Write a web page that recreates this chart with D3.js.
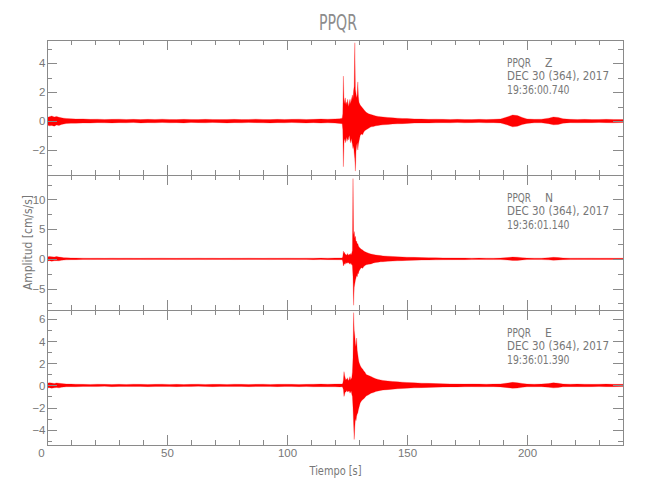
<!DOCTYPE html>
<html><head><meta charset="utf-8">
<script src="https://cdn.jsdelivr.net/npm/d3@7"></script>
<style>
body{margin:0;background:#fff;}
svg{display:block;font-family:"Liberation Sans Narrow","DejaVu Sans Condensed","Liberation Sans",sans-serif;}
</style></head><body>
<svg id="chart" width="650" height="500"></svg>
<script>
// ---- data ----
const timeS = [0,1,2,3,4,5,6,7,8,10,12,15,18,21,24,27,30,33,36,39,42,45,48,51,54,57,60,63,66,69,72,75,78,81,84,87,90,93,96,99,102,105,108,111,114,117,120,122,
123,123.25,123.5,123.75,124,124.25,124.5,124.75,125,125.25,125.5,125.75,126,126.25,126.5,126.75,127,127.25,127.5,127.75,128,128.25,128.5,128.75,129,129.25,129.5,129.75,130,130.5,131,131.5,132,132.5,133,134,135,136,137,138,139,140,
142,144,146,148,150,153,156,159,162,165,168,171,174,177,180,183,186,189,192,194,196,198,200,203,206,209,211,213,215,218,221,224,227,230,233,236,240];

const zHi = [0.25,0.3,0.35,0.28,0.32,0.26,0.22,0.2,0.18,0.16,0.14,
0.15,0.12,0.13,0.11,0.12,0.13,0.11,0.12,0.1,0.12,0.11,0.13,0.11,0.1,0.12,0.11,0.1,0.12,0.11,0.1,0.11,0.12,0.1,0.11,0.13,0.11,0.1,0.12,0.11,0.12,0.13,0.11,0.12,0.14,0.13,0.15,0.16,
0.2,0.5,3.1,1.2,1.4,1.6,1.2,1.3,1.1,1.5,1.2,1.0,1.3,1.5,1.2,1.4,1.6,1.8,1.5,2.1,2.4,5.4,2.2,1.9,1.6,1.8,2.7,1.7,1.3,1.1,1.0,0.9,0.8,0.7,0.6,0.5,0.45,0.4,0.35,0.32,0.3,0.28,
0.25,0.22,0.2,0.18,0.17,0.15,0.14,0.12,0.13,0.12,0.11,0.12,0.11,0.1,0.12,0.11,0.12,0.15,0.3,0.42,0.38,0.25,0.15,0.12,0.13,0.2,0.28,0.25,0.16,0.12,0.11,0.12,0.1,0.11,0.12,0.11,0.1];
const zLo = [-0.28,-0.33,-0.3,-0.35,-0.27,-0.3,-0.24,-0.2,-0.17,-0.15,-0.15,
-0.13,-0.14,-0.11,-0.12,-0.13,-0.11,-0.12,-0.1,-0.13,-0.11,-0.12,-0.1,-0.12,-0.11,-0.13,-0.1,-0.11,-0.12,-0.1,-0.11,-0.13,-0.11,-0.12,-0.1,-0.11,-0.12,-0.13,-0.11,-0.12,-0.1,-0.12,-0.13,-0.11,-0.14,-0.12,-0.14,-0.17,
-0.18,-0.6,-3.15,-1.4,-1.2,-1.5,-1.3,-1.1,-1.4,-1.2,-1.3,-1.1,-1.0,-1.3,-1.5,-1.2,-1.4,-1.6,-1.9,-1.7,-2.2,-2.6,-3.45,-2.1,-1.7,-1.5,-2.0,-1.6,-1.4,-1.0,-0.9,-0.95,-0.75,-0.65,-0.6,-0.5,-0.4,-0.38,-0.33,-0.3,-0.28,-0.26,
-0.24,-0.2,-0.19,-0.18,-0.16,-0.14,-0.13,-0.13,-0.12,-0.11,-0.12,-0.1,-0.12,-0.11,-0.1,-0.12,-0.11,-0.14,-0.28,-0.4,-0.36,-0.24,-0.16,-0.12,-0.12,-0.18,-0.26,-0.24,-0.15,-0.11,-0.12,-0.11,-0.11,-0.1,-0.11,-0.12,-0.1];

const nHi = [0.3,0.4,0.35,0.3,0.38,0.3,0.25,0.2,0.18,0.15,0.13,
0.12,0.1,0.11,0.09,0.12,0.1,0.11,0.1,0.09,0.11,0.1,0.12,0.1,0.09,0.11,0.1,0.12,0.1,0.11,0.09,0.1,0.11,0.1,0.12,0.1,0.09,0.11,0.1,0.12,0.11,0.1,0.12,0.11,0.13,0.12,0.14,0.15,
0.15,0.4,1.3,0.9,1.1,0.7,0.8,0.6,0.7,0.9,0.6,0.7,0.8,0.6,0.9,0.7,1.0,1.4,13.5,4.0,4.6,3.5,3.8,2.9,3.0,2.5,2.6,2.2,2.0,1.8,1.6,1.5,1.3,1.2,1.1,0.95,0.8,0.75,0.65,0.6,0.55,0.5,
0.45,0.4,0.35,0.32,0.28,0.25,0.22,0.2,0.18,0.16,0.15,0.14,0.13,0.12,0.13,0.12,0.11,0.13,0.22,0.3,0.28,0.2,0.13,0.12,0.11,0.18,0.26,0.22,0.14,0.11,0.12,0.11,0.12,0.1,0.11,0.1,0.1];
const nLo = [-0.35,-0.3,-0.4,-0.32,-0.3,-0.33,-0.24,-0.2,-0.17,-0.14,-0.13,
-0.11,-0.12,-0.1,-0.11,-0.09,-0.12,-0.1,-0.11,-0.1,-0.12,-0.09,-0.11,-0.1,-0.12,-0.1,-0.11,-0.09,-0.12,-0.1,-0.11,-0.1,-0.12,-0.11,-0.1,-0.09,-0.11,-0.12,-0.1,-0.11,-0.1,-0.12,-0.11,-0.13,-0.12,-0.13,-0.14,-0.15,
-0.15,-0.5,-1.2,-1.0,-0.8,-0.9,-0.6,-0.7,-0.8,-0.6,-0.7,-0.6,-0.9,-0.7,-0.8,-1.0,-0.8,-1.2,-3.0,-7.8,-4.8,-4.2,-3.6,-3.2,-2.8,-3.0,-2.4,-2.5,-2.1,-1.7,-1.5,-1.6,-1.3,-1.1,-1.0,-0.9,-0.85,-0.7,-0.6,-0.55,-0.5,-0.48,
-0.42,-0.38,-0.33,-0.3,-0.27,-0.24,-0.2,-0.18,-0.17,-0.15,-0.14,-0.13,-0.13,-0.12,-0.11,-0.12,-0.12,-0.12,-0.2,-0.28,-0.26,-0.18,-0.12,-0.11,-0.12,-0.17,-0.24,-0.2,-0.13,-0.12,-0.11,-0.1,-0.11,-0.11,-0.1,-0.11,-0.1];

const eHi = [0.2,0.24,0.22,0.18,0.23,0.2,0.17,0.15,0.13,0.12,0.11,
0.1,0.09,0.11,0.1,0.08,0.1,0.09,0.11,0.1,0.09,0.1,0.11,0.09,0.1,0.08,0.1,0.11,0.09,0.1,0.1,0.09,0.11,0.1,0.09,0.1,0.11,0.09,0.1,0.11,0.1,0.09,0.1,0.11,0.12,0.11,0.12,0.13,
0.12,0.2,0.5,1.25,0.9,0.7,0.5,0.6,0.5,0.7,0.5,0.45,0.6,0.8,0.5,0.6,0.7,1.2,2.5,6.6,5.0,4.5,3.8,3.5,4.3,3.2,2.8,2.4,2.1,1.8,1.6,1.5,1.3,1.2,1.0,0.9,0.8,0.7,0.6,0.55,0.5,0.45,
0.4,0.36,0.33,0.3,0.27,0.24,0.21,0.19,0.17,0.15,0.14,0.13,0.12,0.13,0.12,0.11,0.12,0.14,0.22,0.28,0.25,0.18,0.12,0.11,0.12,0.17,0.24,0.2,0.13,0.11,0.12,0.11,0.1,0.11,0.12,0.1,0.1];
const eLo = [-0.22,-0.2,-0.25,-0.21,-0.19,-0.22,-0.16,-0.14,-0.12,-0.11,-0.12,
-0.09,-0.1,-0.1,-0.08,-0.11,-0.09,-0.1,-0.1,-0.09,-0.11,-0.1,-0.09,-0.1,-0.11,-0.09,-0.1,-0.08,-0.1,-0.11,-0.09,-0.1,-0.1,-0.09,-0.11,-0.1,-0.09,-0.1,-0.11,-0.09,-0.1,-0.11,-0.1,-0.12,-0.11,-0.12,-0.12,-0.13,
-0.12,-0.2,-0.4,-1.0,-0.8,-0.6,-0.6,-0.5,-0.45,-0.6,-0.5,-0.55,-0.5,-0.7,-0.6,-0.5,-0.8,-1.0,-2.0,-3.5,-4.9,-3.8,-3.0,-3.2,-2.8,-2.6,-2.5,-2.2,-2.0,-1.6,-1.4,-1.3,-1.2,-1.1,-0.95,-0.85,-0.7,-0.65,-0.55,-0.5,-0.45,-0.42,
-0.38,-0.34,-0.3,-0.28,-0.25,-0.22,-0.2,-0.18,-0.16,-0.15,-0.13,-0.13,-0.12,-0.11,-0.12,-0.12,-0.11,-0.13,-0.2,-0.26,-0.24,-0.17,-0.12,-0.12,-0.11,-0.16,-0.22,-0.19,-0.12,-0.11,-0.11,-0.12,-0.11,-0.1,-0.11,-0.11,-0.1];

const station = "PPQR";
const components = ["Z", "N", "E"];
const dateLabel = "DEC 30 (364), 2017";
const startTimes = ["19:36:00.740", "19:36:01.140", "19:36:01.390"];
const zDomain = [-3.72, 5.59], nDomain = [-8.6, 14.1], eDomain = [-5.4, 6.84];
const zMajor = [-2, 0, 2, 4], zMinor = [-3, -1, 1, 3, 5];
const nMajor = [-5, 0, 5, 10], nMinor = [-7.5, -2.5, 2.5, 7.5, 12.5];
const eMajor = [-4, -2, 0, 2, 4, 6], eMinor = [-5, -3, -1, 1, 3, 5];
const xDomain = [0, 240];
const xMajor = [0, 50, 100, 150, 200];
const xMinor = [10,20,30,40,60,70,80,90,110,120,130,140,160,170,180,190,210,220,230,240];
const titleText = "PPQR", xLabel = "Tiempo [s]", yLabel = "Amplitud [cm/s/s]";

// ---- drawing ----
const svg = d3.select("#chart");
const L = 47, R = 623, T = 40, PH = 135;
const axisCol = "#8a8a8a", textCol = "#777";
const x = d3.scaleLinear().domain(xDomain).range([L, R]);

const panels = [
  {hi: zHi, lo: zLo, dom: zDomain, major: zMajor, minor: zMinor},
  {hi: nHi, lo: nLo, dom: nDomain, major: nMajor, minor: nMinor},
  {hi: eHi, lo: eLo, dom: eDomain, major: eMajor, minor: eMinor}
];

function styleAxis(g) {
  g.select(".domain").remove();
  g.selectAll(".tick line").attr("stroke", axisCol).attr("shape-rendering", "crispEdges");
  g.selectAll(".tick text").attr("fill", textCol).attr("font-size", "11.5px");
}

panels.forEach((p, i) => {
  const top = T + i * PH, bot = top + PH;
  const y = d3.scaleLinear().domain(p.dom).range([bot, top]);
  const data = timeS.map((t, j) => ({t, hi: p.hi[j], lo: p.lo[j]})).filter(d => d.hi != null && d.lo != null);
  const clipId = "clip" + i;
  svg.append("clipPath").attr("id", clipId).append("rect")
    .attr("x", L).attr("y", top).attr("width", R - L).attr("height", PH);
  const area = d3.area().x(d => x(d.t)).y0(d => y(d.lo)).y1(d => y(d.hi));
  svg.append("path").datum(data).attr("clip-path", `url(#${clipId})`)
    .attr("d", area).attr("fill", "#ff0000").attr("stroke", "#ff0000").attr("stroke-width", 0.25);

  // y axes
  svg.append("g").attr("transform", `translate(${L},0)`)
    .call(d3.axisLeft(y).tickValues(p.major).tickSize(-10).tickPadding(1.5).tickFormat(d3.format("d"))).call(styleAxis);
  svg.append("g").attr("transform", `translate(${L},0)`)
    .call(d3.axisLeft(y).tickValues(p.minor).tickSize(-5).tickFormat("")).call(styleAxis);
  svg.append("g").attr("transform", `translate(${R},0)`)
    .call(d3.axisRight(y).tickValues(p.major).tickSize(-10).tickFormat("")).call(styleAxis);
  svg.append("g").attr("transform", `translate(${R},0)`)
    .call(d3.axisRight(y).tickValues(p.minor).tickSize(-5).tickFormat("")).call(styleAxis);
  // x axes
  svg.append("g").attr("transform", `translate(0,${top})`)
    .call(d3.axisTop(x).tickValues(xMajor).tickSize(-10).tickFormat("")).call(styleAxis);
  svg.append("g").attr("transform", `translate(0,${top})`)
    .call(d3.axisTop(x).tickValues(xMinor).tickSize(-5).tickFormat("")).call(styleAxis);
  const last = i === panels.length - 1;
  const bx = svg.append("g").attr("transform", `translate(0,${bot})`)
    .call(d3.axisBottom(x).tickValues(xMajor).tickSize(-10).tickPadding(4).tickFormat(last ? d3.format("d") : "")).call(styleAxis);
  if (last) bx.selectAll(".tick text").filter(d => d === 0).attr("dx", -6);
  svg.append("g").attr("transform", `translate(0,${bot})`)
    .call(d3.axisBottom(x).tickValues(xMinor).tickSize(-5).tickFormat("")).call(styleAxis);

  svg.append("rect").attr("x", L).attr("y", top).attr("width", R - L).attr("height", PH)
    .attr("fill", "none").attr("stroke", axisCol).attr("shape-rendering", "crispEdges");

  // annotations
  const ann = svg.append("g").attr("fill", textCol).attr("font-size", "12px");
  ann.append("text").attr("x", 507).attr("y", top + 26.7).attr("textLength", 24).attr("lengthAdjust", "spacingAndGlyphs").text(station);
  ann.append("text").attr("x", 545).attr("y", top + 26.7).text(components[i]);
  ann.append("text").attr("x", 507).attr("y", top + 39.5).attr("textLength", 102).attr("lengthAdjust", "spacingAndGlyphs").text(dateLabel);
  ann.append("text").attr("x", 507).attr("y", top + 54.3).attr("textLength", 62.5).attr("lengthAdjust", "spacingAndGlyphs").text(startTimes[i]);
});

svg.append("text").attr("x", 338).attr("y", 30).attr("text-anchor", "middle")
  .attr("font-size", "20.5px").attr("fill", "#8c8c8c")
  .attr("textLength", 38).attr("lengthAdjust", "spacingAndGlyphs").text(titleText);
svg.append("text").attr("x", 335.5).attr("y", 475).attr("text-anchor", "middle")
  .attr("font-size", "12px").attr("fill", textCol)
  .attr("textLength", 52).attr("lengthAdjust", "spacingAndGlyphs").text(xLabel);
svg.append("text").attr("transform", "translate(32,242.5) rotate(-90)").attr("text-anchor", "middle")
  .attr("font-size", "12px").attr("fill", textCol)
  .attr("textLength", 95).attr("lengthAdjust", "spacingAndGlyphs").text(yLabel);
</script>
</body></html>
